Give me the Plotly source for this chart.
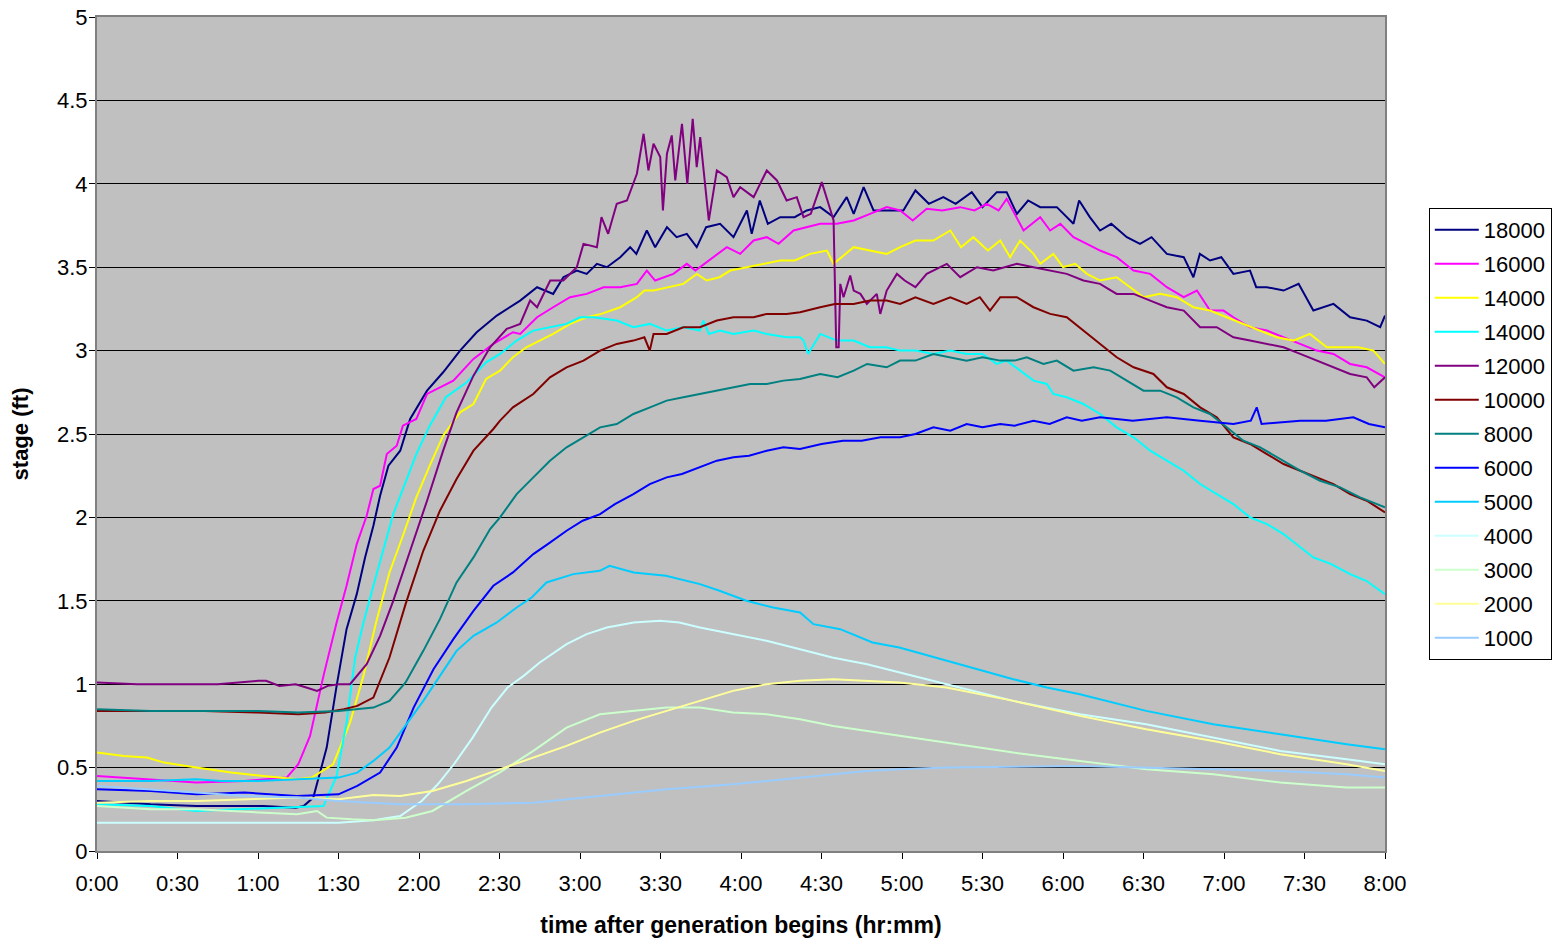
import plotly.graph_objects as go

# ---------------- data (time in minutes after generation begins, stage in ft) ----------------
tick_vals = list(range(0, 481, 30))
tick_labels = ["0:00", "0:30", "1:00", "1:30", "2:00", "2:30", "3:00", "3:30", "4:00",
               "4:30", "5:00", "5:30", "6:00", "6:30", "7:00", "7:30", "8:00"]

series_names = ["18000", "16000", "14000", "14000", "12000", "10000", "8000",
                "6000", "5000", "4000", "3000", "2000", "1000"]
series_colors = ["#000080", "#ff00ff", "#ffff00", "#00ffff", "#800080", "#800000", "#008080",
                 "#0000ff", "#00ccff", "#ccffff", "#ccffcc", "#ffff99", "#99ccff"]

t18000 = [0, 20, 37, 50, 62, 74, 77, 80.6, 85.6, 89.3, 93, 96.8, 99.9, 103, 105.5, 108.6, 113, 116.7,
          123, 129, 135.3, 141.5, 149, 157.7, 162.6, 164, 170, 173.8, 178.8, 182.5, 186.3, 190, 195,
          198.7, 201, 204.9, 208, 212.4, 216, 219.8, 223.5, 227, 232.2, 237.2, 242.2, 244, 247, 250,
          254.6, 260, 264.5, 269.5, 274.5, 279.4, 282, 285.7, 289.4, 295, 300.5, 305, 310, 315.4, 320,
          326, 330, 335.3, 339, 342.8, 347, 351.5, 357.7, 363.9, 366, 370, 373.8, 378, 383.8, 388.7,
          393, 398.7, 405, 408.6, 411, 414.8, 419, 423.5, 429.7, 432, 436, 442.2, 447.8, 453.3, 460.8,
          467, 473.2, 478.2, 480]
v18000 = [0.30, 0.28, 0.27, 0.27, 0.27, 0.26, 0.27, 0.32, 0.62, 0.99, 1.33, 1.54, 1.76, 1.95, 2.13, 2.31,
          2.40, 2.59, 2.76, 2.87, 3.00, 3.11, 3.21, 3.30, 3.36, 3.38, 3.34, 3.44, 3.48, 3.46, 3.52, 3.50,
          3.56, 3.62, 3.58, 3.72, 3.62, 3.74, 3.68, 3.70, 3.62, 3.74, 3.76, 3.68, 3.84, 3.70, 3.90, 3.76,
          3.80, 3.80, 3.84, 3.86, 3.80, 3.92, 3.82, 3.98, 3.84, 3.84, 3.84, 3.96, 3.88, 3.92, 3.88, 3.95,
          3.86, 3.95, 3.95, 3.82, 3.90, 3.86, 3.86, 3.76, 3.90, 3.80, 3.72, 3.76, 3.68, 3.64, 3.68, 3.58,
          3.56, 3.44, 3.58, 3.54, 3.56, 3.46, 3.48, 3.38, 3.38, 3.36, 3.40, 3.24, 3.28, 3.20, 3.18, 3.14,
          3.21]

t16000 = [0, 18, 37, 55, 68, 70.7, 75, 79.4, 84.4, 89.3, 93, 96.8, 100.5, 103, 105.5, 108, 111.7, 114,
          119, 123, 132.8, 140.3, 147.7, 155, 157.7, 164, 170, 176.3, 182.5, 188.8, 195, 201.2, 204.9,
          208, 214.8, 219.8, 223, 229.8, 234.7, 239.7, 244.7, 249.6, 254, 259.6, 264.5, 269.5, 275.7,
          282, 288.1, 294.3, 299.3, 304, 309.2, 315, 321.7, 327, 331.6, 336, 339, 342.8, 345.3, 351.5,
          355.2, 359, 363.9, 368.9, 373.8, 380, 386.3, 392.5, 398.7, 405, 409.9, 414.8, 419.8, 423.5,
          429.7, 436, 442.2, 448.4, 454.6, 460.8, 467, 473.2, 480]
v16000 = [0.45, 0.43, 0.41, 0.42, 0.44, 0.44, 0.52, 0.69, 1.05, 1.37, 1.59, 1.84, 2.01, 2.17, 2.19, 2.38,
          2.43, 2.55, 2.59, 2.74, 2.82, 2.95, 3.04, 3.11, 3.10, 3.20, 3.26, 3.32, 3.34, 3.38, 3.38, 3.40,
          3.48, 3.42, 3.46, 3.52, 3.48, 3.56, 3.62, 3.58, 3.66, 3.68, 3.64, 3.72, 3.74, 3.76, 3.76, 3.78,
          3.82, 3.86, 3.84, 3.78, 3.85, 3.84, 3.86, 3.84, 3.88, 3.84, 3.91, 3.80, 3.72, 3.80, 3.72, 3.76,
          3.68, 3.64, 3.60, 3.56, 3.48, 3.46, 3.38, 3.32, 3.36, 3.24, 3.24, 3.20, 3.14, 3.12, 3.08, 3.04,
          3.00, 2.98, 2.92, 2.90, 2.84]

t14000y = [0, 10, 18.6, 25, 37, 50, 62, 68, 74.5, 80, 88, 94.3, 99.3, 104, 109, 114, 119, 124, 129,
           135.3, 140.3, 145, 150.2, 155, 160, 165, 170, 176.3, 182.5, 188, 195, 201.2, 204, 207.4, 213.6,
           218.5, 223.5, 227.2, 232, 236, 242.2, 248.4, 254.6, 260, 265.8, 272, 274.5, 282, 288, 294.3,
           299.3, 305, 311.7, 318, 322, 326.6, 332, 336.6, 340.3, 344, 349, 351.5, 356.4, 360, 364.5,
           368.9, 373.8, 380, 385, 390, 396.2, 402.4, 408.6, 414.8, 421, 427.2, 433.5, 439.7, 445.9, 452,
           458.3, 464.5, 470, 475.7, 480]
v14000y = [0.59, 0.57, 0.56, 0.53, 0.50, 0.47, 0.45, 0.44, 0.43, 0.44, 0.52, 0.77, 1.05, 1.37, 1.67, 1.89,
           2.12, 2.31, 2.49, 2.63, 2.68, 2.83, 2.88, 2.96, 3.02, 3.06, 3.10, 3.16, 3.20, 3.22, 3.26, 3.32,
           3.36, 3.36, 3.38, 3.40, 3.46, 3.42, 3.44, 3.48, 3.50, 3.52, 3.54, 3.54, 3.58, 3.60, 3.52, 3.62,
           3.60, 3.58, 3.62, 3.66, 3.66, 3.72, 3.62, 3.68, 3.60, 3.66, 3.56, 3.66, 3.58, 3.52, 3.58, 3.50,
           3.52, 3.46, 3.42, 3.44, 3.38, 3.32, 3.34, 3.32, 3.26, 3.24, 3.20, 3.16, 3.12, 3.08, 3.06, 3.10,
           3.02, 3.02, 3.02, 3.00, 2.92]

t14000c = [0, 20, 37, 55, 74, 84.4, 89.3, 93, 96.2, 99.3, 103, 106.7, 110.4, 114, 119, 124, 130, 137.8,
           145, 150.2, 156.4, 162.6, 168.8, 175, 180, 185, 193.7, 199.9, 206, 212.3, 218.5, 224.7, 226,
           228, 232.2, 237.2, 244.7, 249.6, 257, 262, 263.3, 265, 269.5, 275.7, 282, 288, 294, 299.3, 305,
           311.7, 318, 324.1, 330, 335.3, 339, 344, 349, 354, 356.4, 361.4, 367.6, 373.8, 380, 386.3,
           392.5, 398.7, 405, 411.1, 417.3, 423.5, 429.7, 436, 442.2, 448.4, 453.3, 460, 467, 473, 480]
v14000c = [0.28, 0.27, 0.24, 0.25, 0.26, 0.27, 0.45, 0.77, 1.16, 1.37, 1.59, 1.80, 2.02, 2.17, 2.38, 2.55,
           2.72, 2.81, 2.93, 2.98, 3.06, 3.12, 3.14, 3.16, 3.20, 3.20, 3.18, 3.14, 3.16, 3.12, 3.14, 3.12,
           3.18, 3.10, 3.12, 3.10, 3.12, 3.10, 3.08, 3.08, 3.06, 2.98, 3.10, 3.06, 3.06, 3.02, 3.02, 3.00,
           3.00, 2.98, 3.00, 2.98, 2.98, 2.92, 2.94, 2.88, 2.82, 2.80, 2.74, 2.72, 2.68, 2.62, 2.54, 2.48,
           2.40, 2.34, 2.28, 2.20, 2.14, 2.08, 2.00, 1.96, 1.90, 1.82, 1.76, 1.72, 1.66, 1.62, 1.54]

t12000 = [0, 15, 30, 45, 60, 63, 68, 74, 78, 82, 86, 90, 94.3, 100.5, 105.5, 110.4, 116.7, 123, 129, 134,
          140.3, 146.5, 152.7, 157.7, 161.4, 164, 168.9, 173.8, 178.8, 181.3, 186.3, 188, 190.5, 193.7,
          197.5, 201.2, 203.7, 205.5, 207.4, 209.9, 210.9, 212.4, 214.2, 215.5, 218, 220, 222, 223.5,
          224.8, 226.6, 228, 231, 234.7, 237.2, 239.7, 244.7, 249.6, 253.4, 257, 260.8, 263.3, 266,
          270.1, 272.6, 274.5, 275.5, 276.4, 277, 278.2, 280.7, 282, 284.5, 286.9, 290.6, 291.9, 294.3,
          298.1, 301, 305, 309.2, 316.7, 321.7, 327.9, 334, 342.8, 349, 355.2, 361.4, 367.6, 373.8, 380,
          386.3, 392.5, 398.7, 405, 411.1, 417.3, 423.5, 429.7, 436, 442.2, 448.4, 454.6, 460.8, 467,
          473.2, 476, 480]
v12000 = [1.01, 1.00, 1.00, 1.00, 1.02, 1.02, 0.99, 1.00, 0.98, 0.96, 0.99, 1.00, 1.00, 1.12, 1.29, 1.50,
          1.80, 2.10, 2.40, 2.63, 2.85, 3.02, 3.13, 3.16, 3.30, 3.26, 3.42, 3.42, 3.50, 3.64, 3.62, 3.80,
          3.70, 3.88, 3.90, 4.06, 4.30, 4.08, 4.24, 4.16, 3.84, 4.18, 4.29, 4.02, 4.36, 4.00, 4.39, 4.10,
          4.28, 4.00, 3.78, 4.08, 4.04, 3.92, 3.98, 3.92, 4.08, 4.02, 3.90, 3.92, 3.80, 3.82, 4.01, 3.88,
          3.78, 3.02, 3.02, 3.40, 3.32, 3.45, 3.36, 3.34, 3.28, 3.34, 3.22, 3.36, 3.46, 3.42, 3.38, 3.46,
          3.52, 3.44, 3.50, 3.48, 3.52, 3.50, 3.48, 3.46, 3.42, 3.40, 3.34, 3.34, 3.30, 3.26, 3.24, 3.14,
          3.14, 3.08, 3.06, 3.04, 3.02, 2.98, 2.94, 2.90, 2.86, 2.84, 2.78, 2.84]

t10000 = [0, 20, 40, 60, 75, 85, 92, 97, 103, 109, 115, 121.6, 127.8, 134, 140.3, 147.7, 150.2, 155,
          162.6, 168.8, 175, 181.3, 187.5, 193.7, 199.9, 204, 206, 207.4, 212.3, 218.5, 224.7, 231,
          237.2, 244.7, 249.6, 257, 262, 269.5, 275, 282, 288, 294.3, 299.3, 305, 311.7, 318, 324.1,
          329, 332.8, 336.6, 342.8, 349, 355.2, 361.4, 367.6, 373.8, 380, 386.3, 393.7, 398.7, 405,
          411.1, 417.3, 423.5, 429.7, 436, 442.2, 448.4, 454.6, 460.8, 467, 473.2, 480]
v10000 = [0.84, 0.84, 0.84, 0.83, 0.82, 0.83, 0.85, 0.87, 0.92, 1.16, 1.48, 1.80, 2.04, 2.23, 2.40, 2.53,
          2.58, 2.66, 2.74, 2.84, 2.90, 2.94, 3.00, 3.04, 3.06, 3.08, 3.00, 3.10, 3.10, 3.14, 3.14, 3.18,
          3.20, 3.20, 3.22, 3.22, 3.23, 3.26, 3.28, 3.28, 3.30, 3.30, 3.28, 3.32, 3.28, 3.32, 3.28, 3.32,
          3.24, 3.32, 3.32, 3.26, 3.22, 3.20, 3.12, 3.04, 2.96, 2.90, 2.86, 2.78, 2.74, 2.66, 2.60, 2.48,
          2.44, 2.38, 2.32, 2.28, 2.24, 2.20, 2.14, 2.10, 2.03]

t8000 = [0, 20, 40, 60, 75, 90, 103, 109, 115, 121.6, 127.8, 134, 140.3, 146.5, 150.2, 156.4, 162.6,
         168.8, 175, 181.3, 187.5, 193.7, 199.9, 206.1, 212.3, 218.5, 224.7, 231, 237.2, 243.4, 249.6,
         255.8, 262, 269.5, 276, 282, 287, 294.3, 299.3, 305, 311.7, 318, 324.1, 330, 336.6, 342, 346.5,
         352.7, 357.7, 363.9, 371.4, 377.6, 383.8, 390, 396.2, 402.4, 408.6, 414.8, 421, 427.2, 433.5,
         439.7, 448.4, 455.8, 463.3, 470.7, 480]
v8000 = [0.85, 0.84, 0.84, 0.84, 0.83, 0.84, 0.86, 0.90, 1.01, 1.20, 1.39, 1.61, 1.76, 1.93, 2.00, 2.14,
         2.24, 2.34, 2.42, 2.48, 2.54, 2.56, 2.62, 2.66, 2.70, 2.72, 2.74, 2.76, 2.78, 2.80, 2.80, 2.82,
         2.83, 2.86, 2.84, 2.88, 2.92, 2.90, 2.94, 2.94, 2.98, 2.96, 2.94, 2.96, 2.94, 2.94, 2.96, 2.92,
         2.94, 2.88, 2.90, 2.88, 2.82, 2.76, 2.76, 2.72, 2.66, 2.62, 2.54, 2.46, 2.42, 2.36, 2.28, 2.22,
         2.18, 2.12, 2.06]

t6000 = [0, 20, 37, 55, 74.5, 90, 97, 105.5, 111.7, 118, 125.4, 132.8, 140.3, 147.7, 155, 162.6, 168,
         175, 181, 187.5, 193, 199.9, 206, 212.3, 218, 224.7, 231, 237.2, 243, 249.6, 255.8, 262, 270,
         278, 285, 292, 299.3, 305, 311.7, 318, 324.1, 330, 336.6, 342, 349, 355, 361.4, 367, 373.8,
         386, 398.7, 411.1, 423.5, 430, 432.2, 434, 448.4, 458, 468.2, 474, 480]
v6000 = [0.37, 0.36, 0.34, 0.35, 0.33, 0.34, 0.39, 0.47, 0.62, 0.86, 1.09, 1.27, 1.44, 1.59, 1.67, 1.78,
         1.84, 1.92, 1.98, 2.02, 2.08, 2.14, 2.20, 2.24, 2.26, 2.30, 2.34, 2.36, 2.37, 2.40, 2.42, 2.41,
         2.44, 2.46, 2.46, 2.48, 2.48, 2.50, 2.54, 2.52, 2.56, 2.54, 2.56, 2.55, 2.58, 2.56, 2.60, 2.58,
         2.60, 2.58, 2.60, 2.58, 2.56, 2.58, 2.66, 2.56, 2.58, 2.58, 2.60, 2.56, 2.54]

t5000 = [0, 20, 37, 46, 60, 74.5, 90, 97, 103, 109, 115, 121.6, 127.8, 134, 140.3, 149, 156.4, 162,
         167.5, 177.5, 187.4, 191, 200, 207.3, 212, 224.7, 232, 242, 252, 262, 267, 277, 289, 299,
         316.6, 341.5, 354, 366.3, 391, 416, 441, 453.3, 465.7, 480]
v5000 = [0.42, 0.42, 0.43, 0.42, 0.42, 0.43, 0.44, 0.47, 0.54, 0.62, 0.75, 0.90, 1.05, 1.20, 1.29, 1.37,
         1.46, 1.52, 1.61, 1.66, 1.68, 1.71, 1.67, 1.66, 1.65, 1.60, 1.56, 1.50, 1.46, 1.43, 1.36, 1.33,
         1.25, 1.22, 1.14, 1.03, 0.98, 0.94, 0.84, 0.76, 0.70, 0.67, 0.64, 0.61]

t4000 = [0, 30, 60, 90, 103, 109, 113, 121, 127, 133, 140, 147, 153, 159, 165, 175, 182.5, 190, 200,
         209.8, 217, 224.7, 237, 249.5, 262, 274, 287, 299, 316.6, 341.5, 366.3, 391, 416, 441, 465.7, 480]
v4000 = [0.17, 0.17, 0.17, 0.17, 0.185, 0.20, 0.21, 0.30, 0.40, 0.52, 0.68, 0.86, 0.98, 1.05, 1.13, 1.24,
         1.30, 1.34, 1.37, 1.38, 1.37, 1.34, 1.30, 1.26, 1.21, 1.16, 1.12, 1.07, 1.00, 0.90, 0.82, 0.76,
         0.68, 0.60, 0.55, 0.52]

t3000 = [0, 20, 37, 55, 74.5, 82, 85.6, 95, 103, 115, 125, 137.7, 150, 162.6, 175, 187.4, 199.9, 212.3,
         224.7, 237, 249.5, 262, 274.4, 286.8, 291.8, 316.6, 341.5, 366.3, 391, 416, 441, 465.7, 480]
v3000 = [0.27, 0.25, 0.25, 0.235, 0.22, 0.24, 0.20, 0.19, 0.185, 0.20, 0.24, 0.36, 0.47, 0.60, 0.74, 0.82,
         0.84, 0.86, 0.86, 0.83, 0.82, 0.79, 0.75, 0.72, 0.71, 0.65, 0.59, 0.54, 0.49, 0.46, 0.41, 0.38,
         0.38]

t2000 = [0, 20, 37, 55, 74.5, 90, 103, 113, 125, 137.7, 150, 162.6, 175, 187.4, 200, 212.3, 224.7, 237,
         249.5, 262, 274.4, 286.8, 299, 316.6, 341.5, 366.3, 391, 416, 441, 465.7, 480]
v2000 = [0.29, 0.30, 0.30, 0.31, 0.32, 0.31, 0.335, 0.33, 0.36, 0.42, 0.49, 0.56, 0.63, 0.71, 0.78, 0.84,
         0.90, 0.96, 1.00, 1.02, 1.03, 1.02, 1.01, 0.98, 0.90, 0.81, 0.73, 0.66, 0.58, 0.52, 0.48]

t1000 = [0, 20, 37, 55, 74.5, 90, 113, 137, 162.6, 187.4, 212.3, 237, 262, 286.8, 299, 316.6, 366.3,
         416, 441, 465.7, 480]
v1000 = [0.39, 0.37, 0.35, 0.33, 0.32, 0.30, 0.28, 0.28, 0.29, 0.33, 0.37, 0.40, 0.44, 0.48, 0.49, 0.50,
         0.51, 0.49, 0.48, 0.46, 0.44]

series_t = [t18000, t16000, t14000y, t14000c, t12000, t10000, t8000, t6000, t5000, t4000, t3000, t2000, t1000]
series_v = [v18000, v16000, v14000y, v14000c, v12000, v10000, v8000, v6000, v5000, v4000, v3000, v2000, v1000]

# ---------------- figure ----------------
FONT = "Liberation Sans, Arial, sans-serif"
fig = go.Figure()
for i, (name, color, t, v) in enumerate(zip(series_names, series_colors, series_t, series_v)):
    fig.add_trace(go.Scatter(x=t, y=v, mode="lines", name=name, legendgroup=f"g{i}",
                             line=dict(color=color, width=2), hoverinfo="x+y"))

fig.update_layout(
    width=1559, height=938,
    margin=dict(l=97, r=174, t=17, b=87, autoexpand=False),
    paper_bgcolor="white",
    plot_bgcolor="#c0c0c0",
    font=dict(family=FONT, size=22, color="black"),
    showlegend=True,
    legend=dict(x=1.034, y=0.771, xanchor="left", yanchor="top",
                bgcolor="white", bordercolor="black", borderwidth=1,
                font=dict(family=FONT, size=22, color="black"),
                tracegroupgap=2.4, itemwidth=44),
    xaxis=dict(range=[0, 480], tickmode="array", tickvals=tick_vals, ticktext=tick_labels,
               showgrid=False, zeroline=False, ticks="outside", ticklen=6, tickcolor="black",
               ticklabelstandoff=6,
               showline=True, linecolor="#808080", linewidth=2, mirror=True,
               tickfont=dict(family=FONT, size=22, color="black"),
               title=dict(text="<b>time after generation begins (hr:mm)</b>", standoff=22,
                          font=dict(family=FONT, size=23, color="black"))),
    yaxis=dict(range=[0, 5], dtick=0.5, tick0=0,
               showgrid=True, gridcolor="black", gridwidth=1, zeroline=False,
               ticks="outside", ticklen=6, tickcolor="black",
               ticklabelstandoff=-3,
               showline=True, linecolor="#808080", linewidth=2, mirror=True,
               tickfont=dict(family=FONT, size=22, color="black"),
               title=dict(text="<b>stage (ft)</b>", standoff=22,
                          font=dict(family=FONT, size=22, color="black"))),
)

fig.write_html("out.html")
